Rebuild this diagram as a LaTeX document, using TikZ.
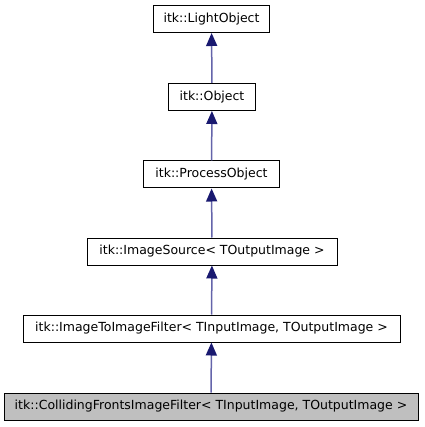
\documentclass[tikz,border=0pt]{standalone}
\usepackage{fontspec}
\setmainfont{DejaVu Sans}
\usetikzlibrary{arrows.meta}
\definecolor{edgeline}{RGB}{100,100,170}
\definecolor{edgehead}{RGB}{25,25,112}
\definecolor{grayfill}{RGB}{191,191,191}
\begin{document}
\begin{tikzpicture}[x=1pt,y=-1pt,
  cls/.style={draw=black,line width=1pt,rectangle,minimum height=27pt,inner sep=0pt,
    font=\fontsize{12.5pt}{15pt}\selectfont,anchor=center},
  cur/.style={cls,fill=grayfill},
  inh/.style={draw=edgeline,line width=1.5pt,
    {Triangle[length=13pt,width=11pt,fill=edgehead,color=edgehead]}-}]
\useasboundingbox (0,0) rectangle (424,427);
\node[cls,minimum width=116pt] (lo) at (211.5,19) {itk::LightObject};
\node[cls,minimum width=87pt] (ob) at (212,97) {itk::Object};
\node[cls,minimum width=136pt] (po) at (211.5,174.5) {itk::ProcessObject};
\node[cls,minimum width=250pt] (is) at (212,251.5) {itk::ImageSource< TOutputImage >};
\node[cls,minimum width=377pt] (it) at (211.5,328.5) {itk::ImageToImageFilter< TInputImage, TOutputImage >};
\node[cur,minimum width=414pt] (cf) at (211,406.5) {itk::CollidingFrontsImageFilter< TInputImage, TOutputImage >};
\draw[inh] (lo) -- (ob);
\draw[inh] (ob) -- (po);
\draw[inh] (po) -- (is);
\draw[inh] (is) -- (it);
\draw[inh] (it) -- (cf);
\end{tikzpicture}
\end{document}
